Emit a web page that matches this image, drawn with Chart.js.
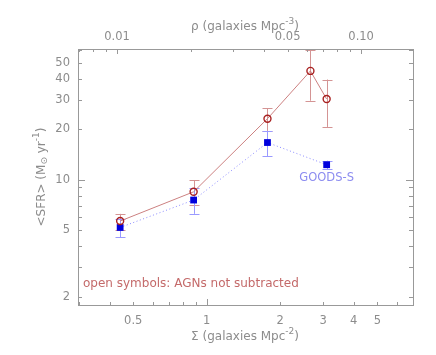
<!DOCTYPE html>
<html><head><meta charset="utf-8">
<script src="https://cdn.jsdelivr.net/npm/chart.js@4/dist/chart.umd.min.js"></script>
<style>html,body{margin:0;padding:0;background:#fff}canvas{display:block}</style>
</head><body>
<canvas id="c" width="436" height="355"></canvas>
<script>
// ---- data ----
const sigmaAll   = [0.442, 0.884, 1.774, 2.66, 3.10];
const sfrAll     = [5.66, 8.47, 23.2, 44.8, 30.4];
const sfrAllLo   = [5.0, 7.06, 19.6, 29.7, 20.7];
const sfrAllHi   = [6.25, 9.9, 26.7, 59.4, 39.8];
const sigmaGoods = [0.442, 0.884, 1.774, 3.10];
const sfrGoods   = [5.18, 7.56, 16.7, 12.3];
const sfrGoodsLo = [4.54, 6.25, 13.8, 11.6];
const sfrGoodsHi = [5.82, 8.96, 19.6, 13.0];
const xTicks  = [0.5, 1, 2, 3, 4, 5];
const xTickLabels = ['0.5', '1', '2', '3', '4', '5'];
const rhoTicks = [0.01, 0.05, 0.10];
const rhoTickLabels = ['0.01', '0.05', '0.10'];
const yTicks = [2, 5, 10, 20, 30, 40, 50];
const yTickLabels = ['2', '5', '10', '20', '30', '40', '50'];
const rhoPerSigma = 0.0233;
const xMin = 0.297, xMax = 7.0, yMin = 1.78, yMax = 60.6;

const GRAY = '#8c8c8c';
const FONT = {family: 'DejaVu Sans', size: 11.5};

function pts(xs, ys){ return xs.map((x,i)=>({x:x, y:ys[i]})); }

function drawRich(ctx, parts, x, y){
  const main = '12px "DejaVu Sans"', small = '9px "DejaVu Sans"';
  let w = 0;
  parts.forEach(p=>{ ctx.font = p.s ? small : main; w += ctx.measureText(p.t).width; });
  let cx = x - w/2;
  ctx.textAlign = 'left'; ctx.textBaseline = 'middle';
  parts.forEach(p=>{
    ctx.font = p.s ? small : main;
    const dy = p.s === 'sup' ? -5 : (p.s === 'sub' ? 3 : 0);
    ctx.fillText(p.t, cx, y + dy);
    cx += ctx.measureText(p.t).width;
  });
}

const errPlugin = {
  id: 'err',
  beforeDatasetsDraw(chart){
    const ctx = chart.ctx, xs = chart.scales.x, ys = chart.scales.y;
    function bars(xv, lo, hi, col){
      ctx.save(); ctx.strokeStyle = col; ctx.lineWidth = 1;
      xv.forEach((x,i)=>{
        const px = Math.round(xs.getPixelForValue(x))+0.5;
        const pl = ys.getPixelForValue(lo[i]), ph = ys.getPixelForValue(hi[i]);
        ctx.beginPath();
        ctx.moveTo(px, pl); ctx.lineTo(px, ph);
        ctx.moveTo(px-5, Math.round(pl)+0.5); ctx.lineTo(px+5, Math.round(pl)+0.5);
        ctx.moveTo(px-5, Math.round(ph)+0.5); ctx.lineTo(px+5, Math.round(ph)+0.5);
        ctx.stroke();
      });
      ctx.restore();
    }
    bars(sigmaAll, sfrAllLo, sfrAllHi, '#d49494');
    bars(sigmaGoods, sfrGoodsLo, sfrGoodsHi, '#9a9aff');
  },
  afterDraw(chart){
    const ctx = chart.ctx, a = chart.chartArea;
    const xs = chart.scales.x, xt = chart.scales.x2, ys = chart.scales.y;
    ctx.save(); ctx.strokeStyle = '#999'; ctx.lineWidth = 1;
    ctx.beginPath();
    for (let d=-1; d<=0; d++) for (let m=1; m<10; m++){
      const v = m*Math.pow(10,d); if (v<xMin||v>xMax) continue;
      const p = Math.round(xs.getPixelForValue(v))+0.5; const L = (v===1)?6:3;
      ctx.moveTo(p, a.bottom); ctx.lineTo(p, a.bottom-L);
    }
    for (let d=-3; d<=-1; d++) for (let m=1; m<10; m++){
      const v = m*Math.pow(10,d); if (v<xt.min||v>xt.max) continue;
      const p = Math.round(xt.getPixelForValue(v))+0.5; const L = (m===1)?5:3;
      ctx.moveTo(p, a.top); ctx.lineTo(p, a.top+L);
    }
    for (let d=0; d<=1; d++) for (let m=1; m<10; m++){
      const v = m*Math.pow(10,d); if (v<yMin||v>yMax) continue;
      const p = Math.round(ys.getPixelForValue(v))+0.5; const L = (v===10)?7:4;
      ctx.moveTo(a.left, p); ctx.lineTo(a.left+L, p);
      ctx.moveTo(a.right, p); ctx.lineTo(a.right-L, p);
    }
    ctx.stroke();
    ctx.fillStyle = GRAY;
    drawRich(ctx, [{t:'\u03C1 (galaxies Mpc'},{t:'-3',s:'sup'},{t:')'}], 245, 27);
    drawRich(ctx, [{t:'\u03A3 (galaxies Mpc'},{t:'-2',s:'sup'},{t:')'}], 245, 337);
    ctx.save(); ctx.translate(42, 177); ctx.rotate(-Math.PI/2);
    drawRich(ctx, [{t:'<SFR> (M'},{t:'\u2299',s:'sub'},{t:' yr'},{t:'-1',s:'sup'},{t:')'}], 0, 0);
    ctx.restore();
    ctx.font = '11.5px "DejaVu Sans"'; ctx.textBaseline = 'middle';
    ctx.fillStyle = '#8c8cf0'; ctx.textAlign = 'center';
    ctx.fillText('GOODS-S', xs.getPixelForValue(3.10), 178);
    ctx.fillStyle = '#c46a6a'; ctx.textAlign = 'left';
    ctx.font = '12px "DejaVu Sans"';
    ctx.fillText('open symbols: AGNs not subtracted', 83, 284);
    ctx.restore();
  }
};

function logAxis(pos, min, max, vals, labels, size, pad, show){
  return {
    type: 'logarithmic', position: pos, min: min, max: max,
    grid: {display: false, drawTicks: false},
    border: {display: true, color: '#999', width: 1},
    afterBuildTicks: (s)=>{ s.ticks = vals.map(v=>({value: v})); },
    afterFit: (s)=>{ if (pos==='top'||pos==='bottom') s.height = size; else s.width = size; },
    ticks: {display: show, autoSkip: false, maxRotation: 0, padding: pad, color: GRAY, font: FONT,
      callback: (v)=>{ const i = vals.indexOf(v); return i>=0 ? labels[i] : ''; }}
  };
}

new Chart(document.getElementById('c'), {
  type: 'line',
  data: { datasets: [
    { data: pts(sigmaAll, sfrAll), borderColor: '#cc8080', borderWidth: 1, showLine: true,
      pointStyle: 'circle', pointRadius: 3.5, pointBorderColor: '#a82020', pointBorderWidth: 1.4,
      pointBackgroundColor: 'rgba(0,0,0,0)', xAxisID: 'x', yAxisID: 'y' },
    { data: pts(sigmaGoods, sfrGoods), borderColor: '#8a8aff', borderWidth: 1, borderDash: [1,2.5], showLine: true,
      pointStyle: 'rect', pointRadius: 4.8, pointBorderColor: '#0000dd', pointBackgroundColor: '#0000dd',
      pointBorderWidth: 0, xAxisID: 'x', yAxisID: 'y' }
  ]},
  options: {
    responsive: false, animation: false, devicePixelRatio: 1,
    layout: {padding: 0},
    plugins: {legend: {display: false}, tooltip: {enabled: false}},
    scales: {
      x: logAxis('bottom', xMin, xMax, xTicks, xTickLabels, 50, 9, true),
      x2: logAxis('top', xMin*rhoPerSigma, xMax*rhoPerSigma, rhoTicks, rhoTickLabels, 49, 5, true),
      y: logAxis('left', yMin, yMax, yTicks, yTickLabels, 78, 8, true),
      y2: logAxis('right', yMin, yMax, yTicks, yTickLabels, 23, 0, false)
    }
  },
  plugins: [errPlugin]
});
</script>
</body></html>
